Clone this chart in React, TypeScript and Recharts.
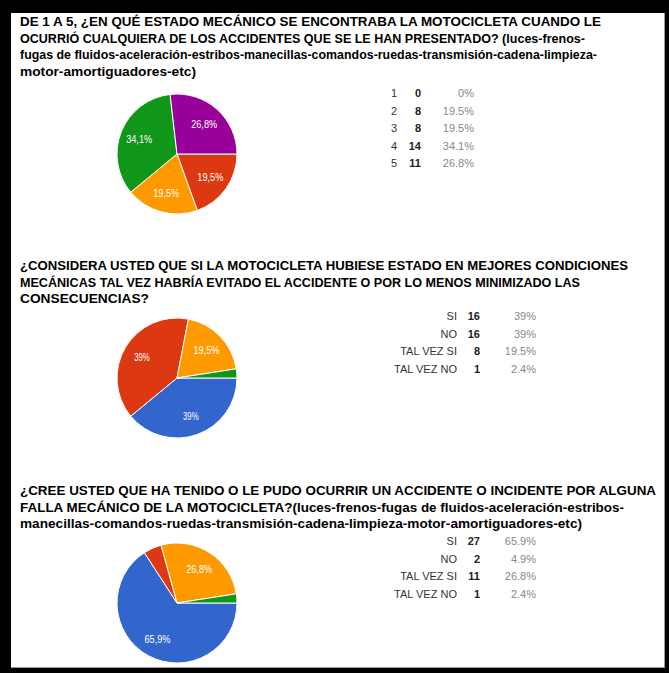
import React from 'react';
import { PieChart, Pie, Cell } from 'recharts';

const COLORS = ['#3366cc', '#dc3912', '#ff9900', '#109618', '#990099'];

const q1Labels = ['1', '2', '3', '4', '5'];
const q1Counts = [0, 8, 8, 14, 11];

const q2Labels = ['SI', 'NO', 'TAL VEZ SI', 'TAL VEZ NO'];
const q2Counts = [16, 16, 8, 1];

const q3Labels = ['SI', 'NO', 'TAL VEZ SI', 'TAL VEZ NO'];
const q3Counts = [27, 2, 11, 1];

const q1Title = [
  'DE 1 A 5, ¿EN QUÉ ESTADO MECÁNICO SE ENCONTRABA LA MOTOCICLETA CUANDO LE',
  'OCURRIÓ CUALQUIERA DE LOS ACCIDENTES QUE SE LE HAN PRESENTADO? (luces-frenos-',
  'fugas de fluidos-aceleración-estribos-manecillas-comandos-ruedas-transmisión-cadena-limpieza-',
  'motor-amortiguadores-etc)'
];
const q2Title = [
  '¿CONSIDERA USTED QUE SI LA MOTOCICLETA HUBIESE ESTADO EN MEJORES CONDICIONES',
  'MECÁNICAS TAL VEZ HABRÍA EVITADO EL ACCIDENTE O POR LO MENOS MINIMIZADO LAS',
  'CONSECUENCIAS?'
];
const q3Title = [
  '¿CREE USTED QUE HA TENIDO O LE PUDO OCURRIR UN ACCIDENTE O INCIDENTE POR ALGUNA',
  'FALLA MECÁNICO DE LA MOTOCICLETA?(luces-frenos-fugas de fluidos-aceleración-estribos-',
  'manecillas-comandos-ruedas-transmisión-cadena-limpieza-motor-amortiguadores-etc)'
];

// rendered width of each title line (the original uses a condensed font)
const q1Widths = [581, 565, 577, 176];
const q2Widths = [608, 560, 129];
const q3Widths = [636, 604, 562];

const RAD = Math.PI / 180;
const FONT = 'Arial, "Liberation Sans", sans-serif';

function fmtPct(p: number, sep: string) {
  const s = (p * 100).toFixed(1).replace(/\.0$/, '');
  return s.replace('.', sep) + '%';
}

function sliceLabel(props: any) {
  const { cx, cy, midAngle, outerRadius, percent } = props;
  if (percent < 0.1) return null;
  const r = outerRadius * 0.68;
  const x = cx + r * Math.cos(-midAngle * RAD);
  const y = cy + r * Math.sin(-midAngle * RAD);
  const txt = fmtPct(percent, ',');
  return (
    <text
      x={x}
      y={y}
      fill="#fff"
      fontSize={11}
      fontFamily={FONT}
      textAnchor="middle"
      dominantBaseline="central"
      textLength={txt.length * 5.2}
      lengthAdjust="spacingAndGlyphs"
    >
      {txt}
    </text>
  );
}

function Title({ lines, widths, top }: { lines: string[]; widths: number[]; top: number }) {
  return (
    <svg
      width={669}
      height={lines.length * 16.5 + 6}
      style={{ position: 'absolute', left: 0, top }}
    >
      {lines.map((l, i) => (
        <text
          key={i}
          x={20}
          y={13 + i * 16.5}
          fontFamily={FONT}
          fontWeight="bold"
          fontSize={13.5}
          fill="#000"
          textLength={widths[i]}
          lengthAdjust="spacingAndGlyphs"
        >
          {l}
        </text>
      ))}
    </svg>
  );
}

function SurveyPie({ labels, counts, colors, top }: { labels: string[]; counts: number[]; colors: string[]; top: number }) {
  const data = labels.map((name, i) => ({ name, value: counts[i] }));
  return (
    <div style={{ position: 'absolute', left: 92, top }}>
      <PieChart width={160} height={130}>
        <Pie
          data={data}
          dataKey="value"
          cx={80}
          cy={65}
          outerRadius={60}
          startAngle={0}
          endAngle={-360}
          stroke="#fff"
          strokeWidth={1}
          labelLine={false}
          label={sliceLabel}
          isAnimationActive={false}
        >
          {data.map((d, i) => (
            <Cell key={d.name} fill={colors[i]} />
          ))}
        </Pie>
      </PieChart>
    </div>
  );
}

function Table({
  labels,
  counts,
  top,
  labelRight,
  countRight,
  pctRight
}: {
  labels: string[];
  counts: number[];
  top: number;
  labelRight: number;
  countRight: number;
  pctRight: number;
}) {
  const total = counts.reduce((a, b) => a + b, 0);
  return (
    <div style={{ position: 'absolute', left: 0, top, fontFamily: FONT, fontSize: 11 }}>
      {labels.map((l, i) => (
        <div key={l} style={{ position: 'relative', height: 17.6, lineHeight: '17.6px' }}>
          <span style={{ position: 'absolute', right: -labelRight, color: '#333', whiteSpace: 'nowrap' }}>{l}</span>
          <span style={{ position: 'absolute', right: -countRight, color: '#222', fontWeight: 'bold' }}>{counts[i]}</span>
          <span style={{ position: 'absolute', right: -pctRight, color: '#888' }}>{fmtPct(counts[i] / total, '.')}</span>
        </div>
      ))}
    </div>
  );
}

export default function App() {
  return (
    <div style={{ position: 'absolute', left: 0, top: 0, width: 669, height: 673, background: '#000', overflow: 'hidden' }}>
      <div
        style={{
          position: 'absolute',
          left: 11,
          top: 13,
          width: 653,
          height: 654,
          background: '#fff',
          borderRight: '1px solid #999',
          borderBottom: '1px solid #999'
        }}
      />
      <Title lines={q1Title} widths={q1Widths} top={13} />
      <SurveyPie labels={q1Labels} counts={q1Counts} colors={COLORS} top={84} />
      <Table labels={q1Labels} counts={q1Counts} top={85} labelRight={397} countRight={421} pctRight={474} />

      <Title lines={q2Title} widths={q2Widths} top={257} />
      <SurveyPie labels={q2Labels} counts={q2Counts} colors={COLORS} top={308} />
      <Table labels={q2Labels} counts={q2Counts} top={308} labelRight={457} countRight={480} pctRight={536} />

      <Title lines={q3Title} widths={q3Widths} top={482} />
      <SurveyPie labels={q3Labels} counts={q3Counts} colors={COLORS} top={533} />
      <Table labels={q3Labels} counts={q3Counts} top={533} labelRight={457} countRight={480} pctRight={536} />
    </div>
  );
}
